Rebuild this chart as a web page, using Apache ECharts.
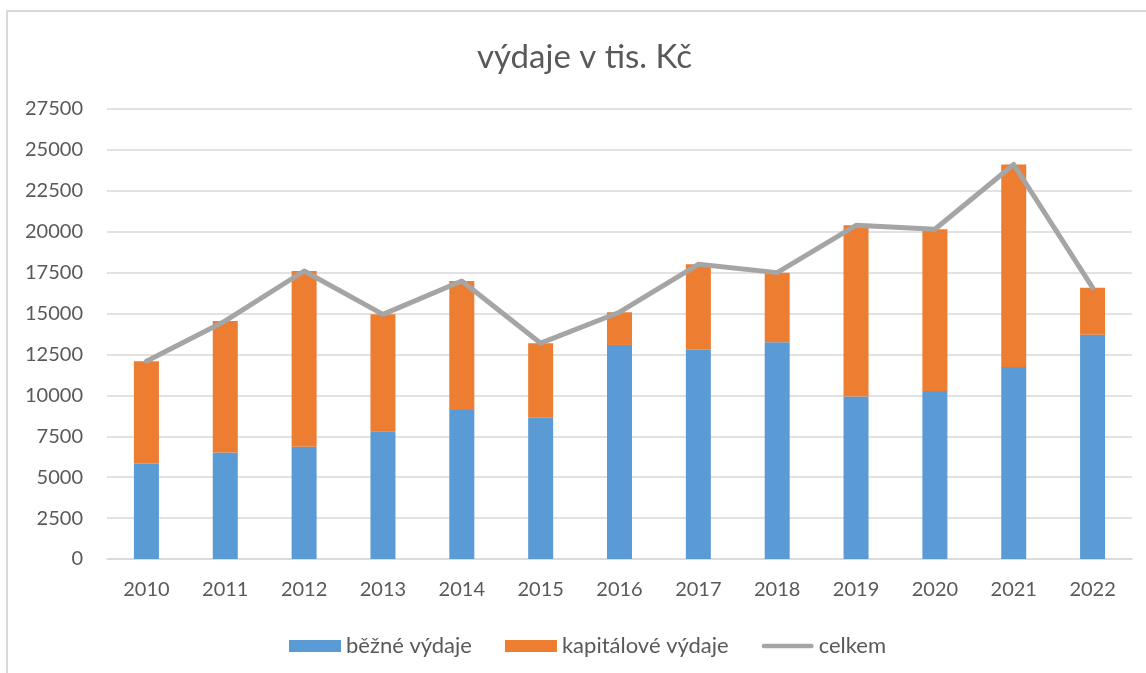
<!DOCTYPE html>
<html>
<head>
<meta charset="utf-8">
<script src="https://cdn.jsdelivr.net/npm/echarts@6/dist/echarts.min.js"></script>
<style>
  html, body { margin: 0; padding: 0; background: #fff; }
  #chart { width: 1146px; height: 673px; }
</style>
</head>
<body>
<div id="chart"></div>
<script>
// roky
var years = ['2010', '2011', '2012', '2013', '2014', '2015', '2016', '2017', '2018', '2019', '2020', '2021', '2022'];
// běžné výdaje (tis. Kč)
var bezne = [5840, 6510, 6860, 7810, 9100, 8630, 13080, 12780, 13250, 9930, 10260, 11740, 13710];
// kapitálové výdaje (tis. Kč)
var kapitalove = [6250, 8040, 10740, 7140, 7890, 4560, 2000, 5230, 4250, 10460, 9890, 12370, 2870];
// celkem (tis. Kč)
var celkem = [12090, 14550, 17600, 14950, 16990, 13190, 15080, 18010, 17500, 20390, 20150, 24110, 16580];

var textColor = '#595959';
var font = 'Lato, "Open Sans", sans-serif';
// ikona čáry v legendě (zaoblená)
var lineIcon = 'path://M2.5,0 L53.5,0 A2.5,2.5 0 0 1 53.5,5 L2.5,5 A2.5,2.5 0 0 1 2.5,0 Z';

var chart = echarts.init(document.getElementById('chart'));
chart.setOption({
  animation: false,
  textStyle: { fontFamily: font, color: textColor },
  title: {
    text: 'výdaje v tis. Kč',
    left: 472,
    top: 36,
    textStyle: { fontFamily: font, fontSize: 33, fontWeight: 'normal', color: textColor }
  },
  graphic: [{
    type: 'rect',
    shape: { x: 7, y: 11, width: 1200, height: 700 },
    style: { fill: 'none', stroke: '#d9d9d9', lineWidth: 2 },
    silent: true
  }],
  grid: { left: 107, right: 14, top: 109, bottom: 114 },
  legend: {
    top: 630,
    left: 284,
    itemWidth: 52,
    itemHeight: 12,
    itemGap: 33,
    textStyle: { fontFamily: font, fontSize: 22, color: textColor },
    data: [
      { name: 'běžné výdaje', icon: 'rect' },
      { name: 'kapitálové výdaje', icon: 'rect' },
      { name: 'celkem', icon: lineIcon }
    ]
  },
  xAxis: {
    type: 'category',
    data: years,
    axisLine: { lineStyle: { color: '#d9d9d9', width: 1.5 } },
    axisTick: { show: false },
    axisLabel: { fontFamily: font, fontSize: 20, color: textColor, margin: 21 }
  },
  yAxis: {
    type: 'value',
    min: 0,
    max: 27500,
    interval: 2500,
    axisLine: { show: false },
    axisTick: { show: false },
    splitLine: { lineStyle: { color: '#d9d9d9', width: 1.5 } },
    axisLabel: {
      fontFamily: font, fontSize: 20, color: textColor, margin: 24,
      formatter: function (v) { return String(v); }
    }
  },
  series: [
    {
      name: 'běžné výdaje',
      type: 'bar',
      stack: 'vydaje',
      barWidth: 25,
      data: bezne,
      itemStyle: { color: '#5b9bd5' }
    },
    {
      name: 'kapitálové výdaje',
      type: 'bar',
      stack: 'vydaje',
      barWidth: 25,
      data: kapitalove,
      itemStyle: { color: '#ed7d31' }
    },
    {
      name: 'celkem',
      type: 'line',
      data: celkem,
      symbol: 'none',
      z: 5,
      lineStyle: { color: '#a5a5a5', width: 5, cap: 'round', join: 'round' },
      itemStyle: { color: '#a5a5a5' }
    }
  ]
});
</script>
</body>
</html>
